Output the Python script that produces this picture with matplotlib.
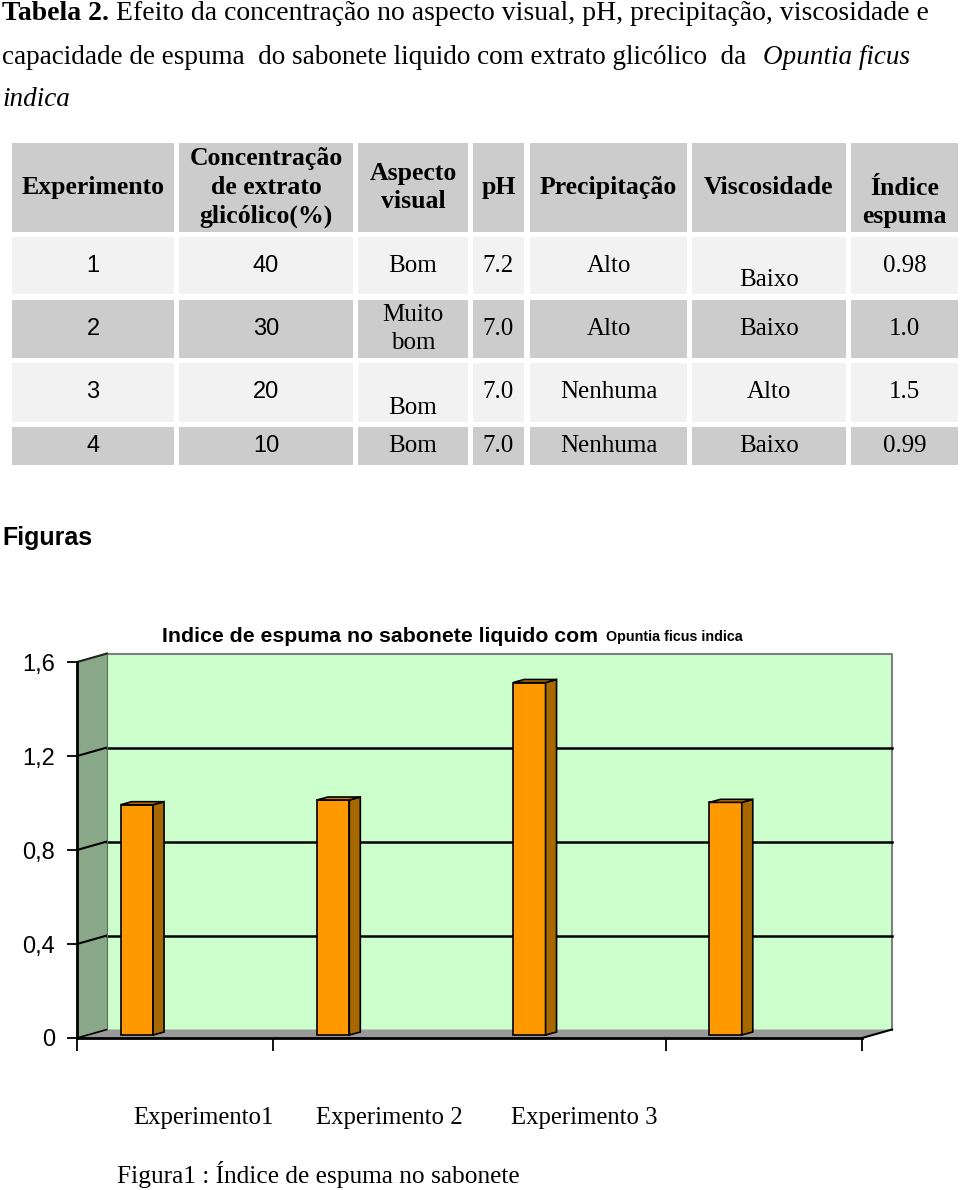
import numpy as np
import matplotlib
matplotlib.use('Agg')
import matplotlib.pyplot as plt
from matplotlib.patches import Rectangle, Polygon

# dados da tabela
cabecalhos = ['Experimento', 'Concentração\nde extrato\nglicólico(%)', 'Aspecto\nvisual',
              'pH', 'Precipitação', 'Viscosidade', 'Índice\nespuma']
experimento = ['1', '2', '3', '4']
concentracao = ['40', '30', '20', '10']
aspecto = ['Bom', 'Muito\nbom', 'Bom', 'Bom']
ph = ['7.2', '7.0', '7.0', '7.0']
precipitacao = ['Alto', 'Alto', 'Nenhuma', 'Nenhuma']
viscosidade = ['Baixo', 'Baixo', 'Alto', 'Baixo']
indice_espuma = [0.98, 1.0, 1.5, 0.99]

# dados do gráfico
y_ticks = [0, 0.4, 0.8, 1.2, 1.6]
y_labels = ['0', '0,4', '0,8', '1,2', '1,6']
rotulos_x = ['Experimento1', 'Experimento 2', 'Experimento 3']

SERIF = 'Liberation Serif'
SANS = 'Liberation Sans'

fig = plt.figure(figsize=(9.6, 11.9), dpi=100)

# página inteira em pixels
page = fig.add_axes([0, 0, 1, 1])
page.set_xlim(0, 960)
page.set_ylim(1190, 0)
page.axis('off')

# título da tabela
t1 = page.text(2, 14, 'Tabela 2.', family=SERIF, weight='bold', fontsize=20, va='center')
page.annotate(' Efeito da concentração no aspecto visual, pH, precipitação, viscosidade e',
              xy=(1, 0), xycoords=t1, va='bottom', family=SERIF, fontsize=20)
page.text(2, 57, 'capacidade de espuma  do sabonete liquido com extrato glicólico  da',
          family=SERIF, fontsize=19.5, va='center')
page.text(763, 57, 'Opuntia ficus', family=SERIF, style='italic', fontsize=19.5, va='center')
page.text(2, 100, 'indica', family=SERIF, style='italic', fontsize=19.5, va='center')

# tabela
col_x = [(12, 174), (179, 353), (358, 468), (473, 524), (530, 687), (692, 846), (851, 958)]
row_y = [(143, 232), (237, 294), (300, 358), (363, 422), (427, 465)]
row_cor = ['#cccccc', '#f2f2f2', '#cccccc', '#f2f2f2', '#cccccc']
ajuste = {(0, 6): 15, (1, 5): 14, (3, 2): 15}

linhas = [cabecalhos] + [list(r) for r in zip(experimento, concentracao, aspecto, ph,
                                                precipitacao, viscosidade,
                                                [str(v) for v in indice_espuma])]
for i, (y0, y1) in enumerate(row_y):
    for j, (x0, x1) in enumerate(col_x):
        page.add_patch(Rectangle((x0, y0), x1 - x0, y1 - y0, facecolor=row_cor[i],
                                 edgecolor='none'))
        yc = (y0 + y1) / 2 + ajuste.get((i, j), 0)
        xc = (x0 + x1) / 2
        if i == 0:
            page.text(xc, yc, linhas[i][j], ha='center', va='center', family=SERIF,
                      weight='bold', fontsize=18.5, linespacing=1.3)
        elif j < 2:
            page.text(xc, yc, linhas[i][j], ha='center', va='center', family=SANS,
                      fontsize=17)
        else:
            page.text(xc, yc, linhas[i][j], ha='center', va='center', family=SERIF,
                      fontsize=18, linespacing=1.3)

page.text(2, 538, 'Figuras', family=SANS, weight='bold', fontsize=18, va='center')

# título do gráfico
tt = page.text(162, 637, 'Indice de espuma no sabonete liquido com', family=SANS,
               weight='bold', fontsize=15.3, va='center')
page.annotate('  Opuntia ficus indica', xy=(1, 0.12), xycoords=tt, va='bottom',
              family=SANS, weight='bold', fontsize=10.3)

# gráfico de barras "3D"
L, R, T, B = 77, 862, 662, 1038
ax = fig.add_axes([L / 960, (1190 - B) / 1190, (R - L) / 960, (B - T) / 1190])
ax.set_xlim(0, 4)
ax.set_ylim(0, 1.6)
ax.patch.set_visible(False)
px_x = (R - L) / 4.0
px_y = (B - T) / 1.6
DX, DY = 30 / px_x, 8.5 / px_y

# parede do fundo
ax.add_patch(Rectangle((DX, DY), 4, 1.6, facecolor='#ccffcc', edgecolor='none', clip_on=False))
ax.plot([DX, 4 + DX, 4 + DX], [1.6 + DY, 1.6 + DY, DY], color='#808080', lw=1.5, clip_on=False)
ax.plot([0, DX], [1.6, 1.6 + DY], color='#222222', lw=1.5, clip_on=False)
# parede esquerda
ax.add_patch(Polygon([(0, 0), (0, 1.6), (DX, 1.6 + DY), (DX, DY)], closed=True,
                     facecolor='#88a888', edgecolor='none', clip_on=False))
# chão
ax.add_patch(Polygon([(0, 0), (4, 0), (4 + DX, DY), (DX, DY)], closed=True,
                     facecolor='#999999', edgecolor='none', clip_on=False))
ax.plot([4, 4 + DX], [0, DY], color='black', lw=1.5, clip_on=False)

for v in y_ticks[1:4]:
    ax.plot([DX, 4 + DX], [v + DY, v + DY], color='black', lw=1.8, clip_on=False)
for v in y_ticks[1:4]:
    ax.plot([0, DX], [v, v + DY], color='black', lw=1.5, clip_on=False)
ax.plot([0, DX], [0, DY], color='black', lw=1.2, clip_on=False)
ax.plot([DX, DX], [DY, 1.6 + DY], color='#5a6f5a', lw=0.8, clip_on=False)

# barras
x = np.arange(len(indice_espuma)) + 0.305
w = 0.165
base = 3 / px_y
sdx, sdy = 11 / px_x, 3 / px_y
ax.bar(x, indice_espuma, width=w, bottom=base, color='#ff9900', edgecolor='black',
       linewidth=1.2, zorder=5, clip_on=False)
for xi, v in zip(x, indice_espuma):
    xr = xi + w / 2
    xl = xi - w / 2
    top = base + v
    ax.add_patch(Polygon([(xr, base), (xr, top), (xr + sdx, top + sdy), (xr + sdx, base + sdy)],
                         closed=True, facecolor='#a86800', edgecolor='black', lw=1.2,
                         zorder=5, clip_on=False))
    ax.add_patch(Polygon([(xl, top), (xr, top), (xr + sdx, top + sdy), (xl + sdx, top + sdy)],
                         closed=True, facecolor='#cc7a00', edgecolor='black', lw=1.2,
                         zorder=5, clip_on=False))

for s in ['top', 'right']:
    ax.spines[s].set_visible(False)
for s in ['left', 'bottom']:
    ax.spines[s].set_linewidth(2)
    ax.spines[s].set_zorder(6)
ax.set_yticks(y_ticks)
ax.set_yticklabels(y_labels, family=SANS, fontsize=17)
ax.set_xticks([0, 1, 3, 4])
ax.set_xticklabels([])
ax.tick_params(axis='y', direction='out', length=7, width=1.3, pad=9)
ax.tick_params(axis='x', direction='out', length=9, width=1.3)

# rótulos abaixo do gráfico
for xp, r in zip([133, 316, 511], rotulos_x):
    page.text(xp, 1118, r, family=SERIF, fontsize=17.8, va='center')
page.text(117, 1175, 'Figura1 : Índice de espuma no sabonete', family=SERIF, fontsize=18.3,
          va='center')

fig.savefig('out.png', dpi=100)
